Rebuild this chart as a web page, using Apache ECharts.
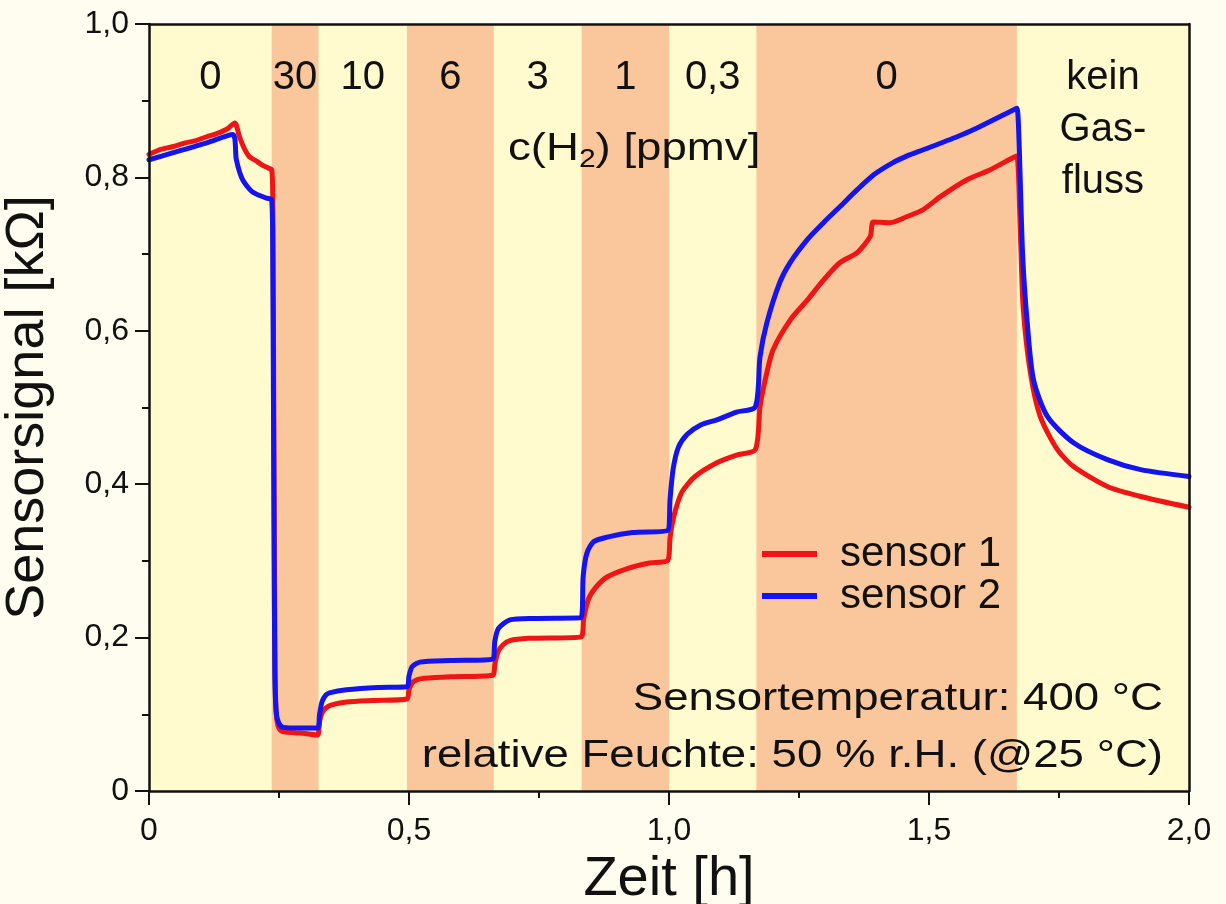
<!DOCTYPE html>
<html>
<head>
<meta charset="utf-8">
<script src="https://cdn.jsdelivr.net/npm/echarts@6/dist/echarts.min.js"></script>
<style>
  html, body { margin: 0; padding: 0; background: #fefdf0; }
  #chart { width: 1226px; height: 904px; }
</style>
</head>
<body>
<div id="chart"></div>
<script>
// Gas-exposure phases: edges in hours and the H2 concentration of each phase
const bandEdges = [0, 0.236, 0.326, 0.496, 0.663, 0.832, 1.0, 1.168, 1.669, 2.0];
const bandLabels = ['0', '30', '10', '6', '3', '1', '0,3', '0', 'kein\nGas-\nfluss'];

// Axis tick values
const xTicks = [0, 0.5, 1.0, 1.5, 2.0];
const yTicks = [0, 0.2, 0.4, 0.6, 0.8, 1.0];

// Sensor 1 signal (time in h, resistance in kOhm)
const timeS1 = [
  0.000, 0.020, 0.045, 0.070, 0.090, 0.111, 0.130, 0.141, 0.152, 0.165,
  0.174, 0.183, 0.193, 0.205, 0.218, 0.230, 0.236, 0.238, 0.240, 0.242,
  0.244, 0.248, 0.255, 0.280, 0.300, 0.324, 0.328, 0.333, 0.340, 0.350,
  0.380, 0.430, 0.496, 0.500, 0.506, 0.515, 0.530, 0.580, 0.661, 0.665,
  0.671, 0.680, 0.694, 0.730, 0.831, 0.836, 0.845, 0.860, 0.881, 0.920,
  0.960, 0.998, 1.002, 1.010, 1.025, 1.050, 1.092, 1.130, 1.166, 1.175,
  1.185, 1.200, 1.233, 1.266, 1.297, 1.329, 1.362, 1.387, 1.393, 1.425,
  1.458, 1.489, 1.522, 1.573, 1.618, 1.662, 1.669, 1.676, 1.681, 1.695,
  1.714, 1.747, 1.778, 1.843, 1.907, 2.000
];
const sensor1 = [
  0.830, 0.836, 0.840, 0.845, 0.848, 0.853, 0.857, 0.860, 0.864, 0.871,
  0.853, 0.838, 0.827, 0.822, 0.816, 0.812, 0.810, 0.775, 0.500, 0.200,
  0.110, 0.085, 0.078, 0.076, 0.075, 0.073, 0.090, 0.102, 0.108, 0.112,
  0.116, 0.118, 0.120, 0.132, 0.141, 0.145, 0.147, 0.149, 0.151, 0.165,
  0.181, 0.190, 0.196, 0.199, 0.201, 0.225, 0.250, 0.266, 0.279, 0.290,
  0.297, 0.301, 0.330, 0.360, 0.390, 0.410, 0.428, 0.438, 0.445, 0.501,
  0.536, 0.575, 0.614, 0.640, 0.666, 0.689, 0.702, 0.723, 0.742, 0.741,
  0.749, 0.758, 0.775, 0.797, 0.810, 0.826, 0.828, 0.720, 0.631, 0.545,
  0.488, 0.445, 0.423, 0.397, 0.384, 0.370
];

// Sensor 2 signal (time in h, resistance in kOhm)
const timeS2 = [
  0.000, 0.045, 0.111, 0.161, 0.168, 0.180, 0.199, 0.226, 0.236, 0.238,
  0.240, 0.242, 0.245, 0.250, 0.258, 0.290, 0.324, 0.328, 0.333, 0.340,
  0.347, 0.380, 0.440, 0.496, 0.500, 0.506, 0.521, 0.580, 0.661, 0.665,
  0.672, 0.694, 0.740, 0.831, 0.835, 0.842, 0.855, 0.881, 0.930, 0.998,
  1.002, 1.008, 1.018, 1.035, 1.060, 1.092, 1.130, 1.166, 1.175, 1.188,
  1.213, 1.233, 1.266, 1.297, 1.329, 1.362, 1.395, 1.430, 1.458, 1.489,
  1.554, 1.585, 1.662, 1.669, 1.673, 1.680, 1.689, 1.701, 1.728, 1.778,
  1.843, 1.907, 2.000
];
const sensor2 = [
  0.823, 0.832, 0.845, 0.856, 0.823, 0.797, 0.781, 0.773, 0.771, 0.700,
  0.400, 0.150, 0.100, 0.088, 0.083, 0.082, 0.082, 0.100, 0.117, 0.125,
  0.128, 0.132, 0.135, 0.136, 0.150, 0.162, 0.168, 0.170, 0.172, 0.195,
  0.212, 0.223, 0.225, 0.226, 0.280, 0.310, 0.325, 0.331, 0.337, 0.340,
  0.380, 0.420, 0.448, 0.465, 0.477, 0.484, 0.494, 0.501, 0.566, 0.610,
  0.663, 0.689, 0.719, 0.741, 0.762, 0.784, 0.804, 0.819, 0.828, 0.836,
  0.853, 0.862, 0.888, 0.890, 0.850, 0.700, 0.610, 0.536, 0.488, 0.454,
  0.432, 0.419, 0.410
];

const FONT = '"Liberation Sans", Arial, sans-serif';
const INK = '#111111';
const BAND_PALE = '#fffbcf';
const BAND_H2 = '#fac69c';

const pairs = (t, v) => t.map((x, i) => [x, v[i]]);
const decimalComma = v => (v === 0 ? '0' : v.toFixed(1).replace('.', ','));

// Pale phases come from the grid background; H2 phases are filled areas.
const bandAreas = bandLabels.map((label, i) => {
  const multiLine = label.indexOf('\n') >= 0;
  return [
    {
      xAxis: bandEdges[i],
      itemStyle: { color: i % 2 === 0 ? 'rgba(0,0,0,0)' : BAND_H2 },
      label: {
        show: true,
        position: 'insideTop',
        distance: multiLine ? 28 : 34,
        formatter: label,
        fontFamily: FONT,
        fontSize: 40,
        lineHeight: multiLine ? 52 : 40,
        color: INK,
        align: 'center'
      }
    },
    { xAxis: bandEdges[i + 1] }
  ];
});

const axisCommon = {
  type: 'value',
  z: 10,
  axisLine: { show: true, onZero: false, lineStyle: { color: INK, width: 2.5 } },
  axisTick: { show: true, inside: false, length: 14, lineStyle: { color: INK, width: 2 } },
  minorTick: { show: true, splitNumber: 2, length: 7, lineStyle: { color: INK, width: 2 } },
  splitLine: { show: false },
  minorSplitLine: { show: false }
};

const lineSeries = (name, t, v, color, z) => ({
  name,
  type: 'line',
  data: pairs(t, v),
  showSymbol: false,
  symbol: 'none',
  smooth: 0.25,
  color,
  lineStyle: { width: 5, color, join: 'round', cap: 'round' },
  z
});

const scaledText = (x, y, style) => ({
  type: 'text',
  x, y,
  scaleX: 1.2,
  scaleY: 1,
  z: 20,
  style: Object.assign({ fill: INK, fontFamily: FONT }, style)
});

const chart = echarts.init(document.getElementById('chart'), null, { renderer: 'canvas' });

const s1 = lineSeries('sensor 1', timeS1, sensor1, '#f01414', 3);
s1.markArea = { silent: true, data: bandAreas };
const s2 = lineSeries('sensor 2', timeS2, sensor2, '#1414f0', 4);

chart.setOption({
  animation: false,
  backgroundColor: '#fefdf0',
  grid: {
    left: 149, right: 37, top: 24, bottom: 113,
    show: true,
    backgroundColor: BAND_PALE,
    borderWidth: 0,
    containLabel: false,
    outerBoundsMode: 'none'
  },
  xAxis: [
    Object.assign({}, axisCommon, {
      min: xTicks[0], max: xTicks[xTicks.length - 1], interval: 0.5,
      position: 'bottom',
      name: 'Zeit [h]',
      nameLocation: 'middle',
      nameGap: 45,
      nameTextStyle: { fontFamily: FONT, fontSize: 56, color: INK },
      axisLabel: {
        formatter: decimalComma, margin: 24,
        fontFamily: FONT, fontSize: 32, color: INK
      }
    }),
    {
      type: 'value', min: 0, max: 2, position: 'top', z: 10,
      axisLine: { show: true, onZero: false, lineStyle: { color: INK, width: 2.5 } },
      axisTick: { show: false }, axisLabel: { show: false }, splitLine: { show: false }
    }
  ],
  yAxis: [
    Object.assign({}, axisCommon, {
      min: yTicks[0], max: yTicks[yTicks.length - 1], interval: 0.2,
      position: 'left',
      name: 'Sensorsignal [kΩ]',
      nameLocation: 'middle',
      nameGap: 94,
      nameTextStyle: { fontFamily: FONT, fontSize: 54, color: INK },
      axisLabel: {
        formatter: decimalComma, margin: 20,
        fontFamily: FONT, fontSize: 32, color: INK
      }
    }),
    {
      type: 'value', min: 0, max: 1, position: 'right', z: 10,
      axisLine: { show: true, onZero: false, lineStyle: { color: INK, width: 2.5 } },
      axisTick: { show: false }, axisLabel: { show: false }, splitLine: { show: false }
    }
  ],
  legend: {
    data: ['sensor 1', 'sensor 2'],
    orient: 'vertical',
    left: 757,
    top: 528,
    icon: 'rect',
    itemWidth: 55,
    itemHeight: 6,
    itemGap: 0,
    textStyle: { fontFamily: FONT, fontSize: 42, color: INK, padding: [0, 0, 0, 18] }
  },
  series: [s1, s2],
  graphic: [
    scaledText(508, 150, {
      text: '{a|c(H}{s|2}{a|) [ppmv]}',
      verticalAlign: 'middle', align: 'left',
      rich: {
        a: { fontFamily: FONT, fontSize: 38, fill: INK },
        s: { fontFamily: FONT, fontSize: 25, fill: INK, padding: [20, 0, 0, 0] }
      }
    }),
    scaledText(1163, 700, {
      text: 'Sensortemperatur: 400 °C',
      align: 'right', verticalAlign: 'middle', fontSize: 38
    }),
    scaledText(1163, 757, {
      text: 'relative Feuchte: 50 % r.H. (@25 °C)',
      align: 'right', verticalAlign: 'middle', fontSize: 38
    })
  ]
});
</script>
</body>
</html>
